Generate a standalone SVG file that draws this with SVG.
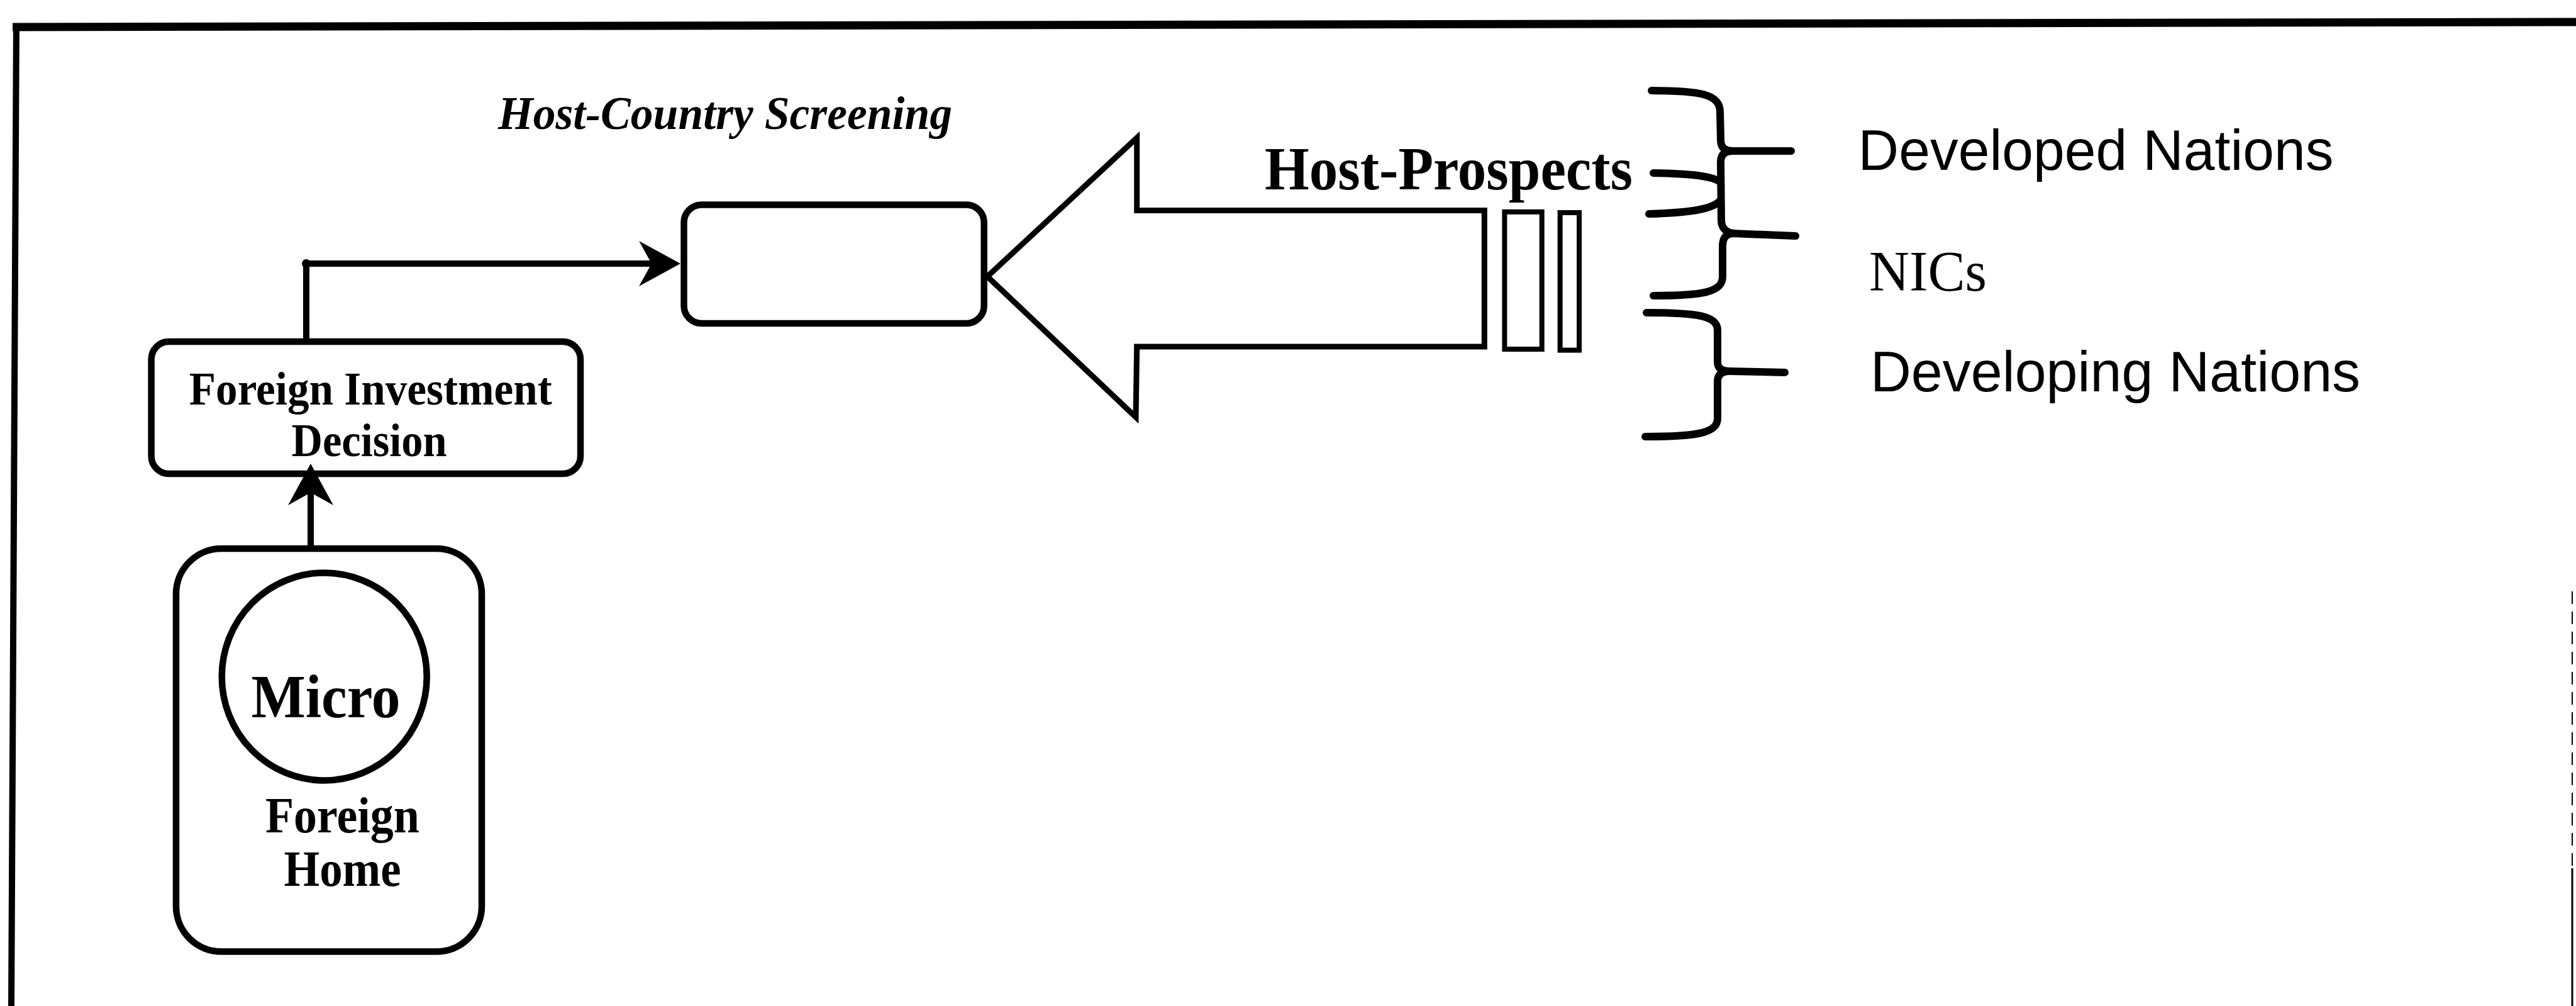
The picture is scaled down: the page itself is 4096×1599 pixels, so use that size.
<svg xmlns="http://www.w3.org/2000/svg" width="4096" height="1599" viewBox="0 0 4096 1599">
<defs>
<style>
.frame{fill:none;stroke:#000}
.box{fill:none;stroke:#000;stroke-width:10.5}
.conn{fill:none;stroke:#000;stroke-width:10}
.blk{fill:none;stroke:#000;stroke-width:9;stroke-linejoin:miter}
.bar{fill:none;stroke:#000;stroke-width:8}
.brace{fill:none;stroke:#000;stroke-width:12;stroke-linecap:round;stroke-linejoin:round}
.serifb{font-family:"Liberation Serif","Times New Roman",serif;font-weight:bold;fill:#000}
.sans{font-family:"Liberation Sans",Arial,sans-serif;fill:#000}
.serif{font-family:"Liberation Serif","Times New Roman",serif;fill:#000}
</style>
<marker id="ah" markerUnits="userSpaceOnUse" viewBox="0 0 66 72" markerWidth="66" markerHeight="72" refX="56" refY="36" orient="auto"><path d="M66,36 L0,0 L20,36 L0,72 Z" fill="#000"/></marker>
</defs>
<rect width="4096" height="1599" fill="#fff"/>
<g id="frame">
<path class="frame" d="M20,43 L4096,35" stroke-width="13"/>
<path class="frame" d="M26,37 L18,1599" stroke-width="10"/>
<path class="frame" d="M4090,940 L4090,1380" stroke-width="2" stroke-dasharray="20 12"/>
<path class="frame" d="M4090,1380 L4090,1599" stroke-width="3"/>
</g>
<g id="title-screening">
<text class="serifb" font-style="italic" x="792" y="205" font-size="75" textLength="722" lengthAdjust="spacingAndGlyphs">Host-Country Screening</text>
</g>
<g id="screening-box">
<rect class="box" x="1087.5" y="325.6" width="477.2" height="188.4" rx="28" ry="28"/>
</g>
<g id="fid">
<rect class="box" x="240.6" y="543" width="682.4" height="210" rx="28" ry="28"/>
<text class="serifb" x="300.8" y="643" font-size="75" textLength="577" lengthAdjust="spacingAndGlyphs">Foreign Investment</text>
<text class="serifb" x="463.6" y="725" font-size="75" textLength="247" lengthAdjust="spacingAndGlyphs">Decision</text>
</g>
<g id="foreign-home">
<rect class="box" x="280" y="872" width="486" height="640.6" rx="72" ry="72"/>
<ellipse class="box" cx="515.7" cy="1075.5" rx="163" ry="165" stroke-width="10"/>
<text class="serifb" x="399.4" y="1140" font-size="97" textLength="237" lengthAdjust="spacingAndGlyphs">Micro</text>
<text class="serifb" x="421.9" y="1323" font-size="81" textLength="245" lengthAdjust="spacingAndGlyphs">Foreign</text>
<text class="serifb" x="451.5" y="1407.5" font-size="80" textLength="186" lengthAdjust="spacingAndGlyphs">Home</text>
</g>
<g id="host-prospects">
<polygon class="blk" points="1570,439.5 1807.7,219 1807.7,334.4 2360.3,334.4 2360.3,551 1807.7,551 1806,663"/>
<rect class="bar" x="2392.4" y="336.8" width="59.3" height="218.2"/>
<rect class="bar" x="2480.6" y="338" width="30.4" height="218.6"/>
<text class="serifb" x="2011" y="301" font-size="97" textLength="585" lengthAdjust="spacingAndGlyphs">Host-Prospects</text>
</g>
<g id="braces">
<path class="brace" d="M2626,144 C2705,144 2735,150 2735,178 L2736,222 C2736,234 2742,240 2756,240 C2742,240 2736,246 2736,258 L2737,350 C2737,362 2744,370 2758,371 C2744,371 2739,378 2739,392 L2739,440 C2739,465 2705,470 2629,470"/>
<path class="brace" d="M2752,240 L2848,240"/>
<path class="brace" d="M2755,371 L2855,375"/>
<path class="brace" d="M2629,275 C2690,276 2725,280 2736,290"/>
<path class="brace" d="M2622,340 C2690,338 2725,332 2736,318"/>
<path class="brace" d="M2618,497 C2700,497 2731,502 2731,525 L2731,575 C2731,585 2737,590 2750,590 C2737,590 2731,596 2731,606 L2731,665 C2731,688 2700,694 2616,694"/>
<path class="brace" d="M2748,590 L2838,592"/>
</g>
<g id="developed">
<text class="sans" x="2954.6" y="270" font-size="90" textLength="756" lengthAdjust="spacingAndGlyphs">Developed Nations</text>
</g>
<g id="nics">
<text class="serif" x="2972" y="462" font-size="90" textLength="187" lengthAdjust="spacingAndGlyphs">NICs</text>
</g>
<g id="developing">
<text class="sans" x="2974" y="622" font-size="90" textLength="779" lengthAdjust="spacingAndGlyphs">Developing Nations</text>
</g>
<g id="connectors">
<path class="conn" d="M487,543 L487,419 L1072,419" marker-end="url(#ah)"/>
<circle cx="487" cy="419" r="7" fill="#000"/>
<path class="conn" d="M494,872 L494,747" marker-end="url(#ah)"/>
</g>
</svg>
